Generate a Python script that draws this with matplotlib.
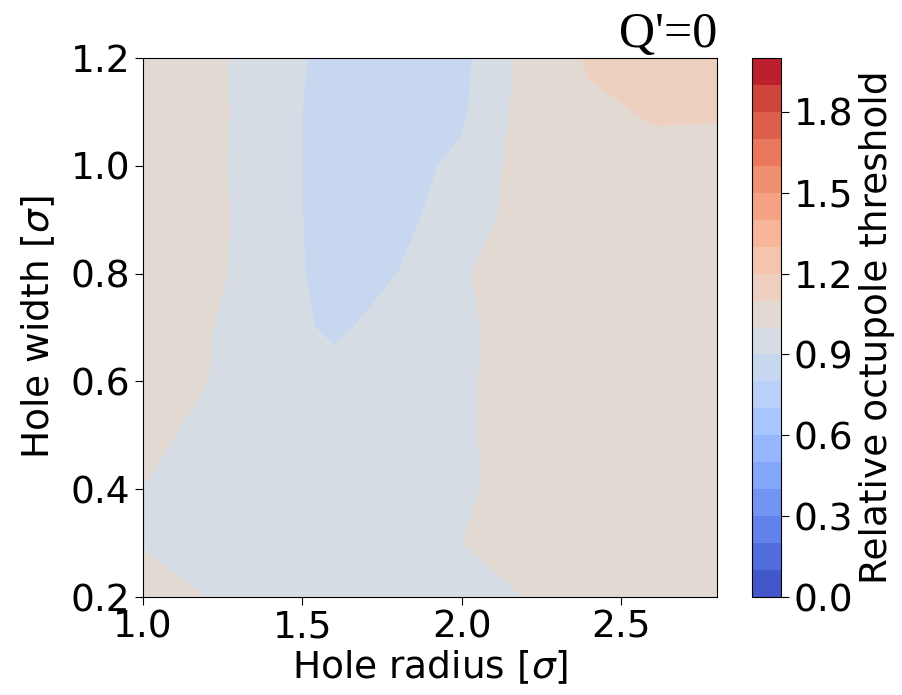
import matplotlib
matplotlib.use("Agg")
import matplotlib.pyplot as plt
import numpy as np

hole_radius = [1.0, 1.2, 1.4, 1.6, 1.8, 2.0, 2.2, 2.4, 2.6, 2.8]
hole_width = [0.2, 0.3, 0.4, 0.5, 0.6, 0.7, 0.8, 0.9, 1.0, 1.1, 1.2]

# relative octupole threshold, one row per hole width (bottom to top)
row_w02 = [1.030, 0.999, 0.950, 0.945, 0.950, 0.950, 1.002, 1.050, 1.050, 1.050]
row_w03 = [0.995, 0.965, 0.950, 0.945, 0.950, 0.999, 1.050, 1.050, 1.050, 1.050]
row_w04 = [0.998, 0.960, 0.950, 0.945, 0.950, 0.980, 1.050, 1.050, 1.050, 1.050]
row_w05 = [1.030, 0.970, 0.950, 0.940, 0.945, 0.980, 1.056, 1.055, 1.050, 1.050]
row_w06 = [1.030, 1.001, 0.950, 0.929, 0.940, 0.980, 1.056, 1.055, 1.055, 1.050]
row_w07 = [1.035, 1.007, 0.934, 0.885, 0.935, 0.980, 1.047, 1.055, 1.060, 1.055]
row_w08 = [1.040, 1.0255, 0.947, 0.860, 0.9004, 0.990, 1.053, 1.060, 1.065, 1.060]
row_w09 = [1.045, 1.040, 0.930, 0.871, 0.880, 0.937, 1.050, 1.070, 1.075, 1.070]
row_w10 = [1.040, 1.034, 0.930, 0.871, 0.870, 0.918, 1.045, 1.070, 1.082, 1.080]
row_w11 = [1.040, 1.038, 0.930, 0.870, 0.855, 0.885, 1.0385, 1.085, 1.106, 1.105]
row_w12 = [1.040, 1.034, 0.930, 0.877, 0.860, 0.875, 1.027, 1.110, 1.130, 1.130]

threshold = np.array([row_w02, row_w03, row_w04, row_w05, row_w06, row_w07,
                      row_w08, row_w09, row_w10, row_w11, row_w12])

cbar_ticks = [0.0, 0.3, 0.6, 0.9, 1.2, 1.5, 1.8]
x_ticks = [1.0, 1.5, 2.0, 2.5]
y_ticks = [0.2, 0.4, 0.6, 0.8, 1.0, 1.2]

levels = np.linspace(0.0, 2.0, 21)

fig = plt.figure(figsize=(9.03, 6.95), dpi=100)
ax = fig.add_axes([143/903, 1-597/695, (717-143)/903, (597-58)/695])
cax = fig.add_axes([752/903, 1-597/695, 29/903, (597-58)/695])

X, Y = np.meshgrid(hole_radius, hole_width)
cs = ax.contourf(X, Y, threshold, levels=levels, cmap="coolwarm")

ax.set_xlim(1.0, 2.8)
ax.set_ylim(0.2, 1.2)
ax.set_xticks(x_ticks)
ax.set_yticks(y_ticks)
ax.tick_params(labelsize=27, length=6, pad=3)
ax.set_xlabel(r"Hole radius [$\sigma$]", fontsize=27, labelpad=2)
ax.set_ylabel(r"Hole width [$\sigma$]", fontsize=27, labelpad=10)
ax.set_title("Q'=0", loc="right", fontsize=36,
             fontfamily="Liberation Serif", pad=6)

cb = fig.colorbar(cs, cax=cax, ticks=cbar_ticks)
cb.ax.tick_params(labelsize=27, length=6, pad=3)
cb.set_label("Relative octupole threshold", fontsize=27, labelpad=4)

fig.savefig("out.png", dpi=100)
